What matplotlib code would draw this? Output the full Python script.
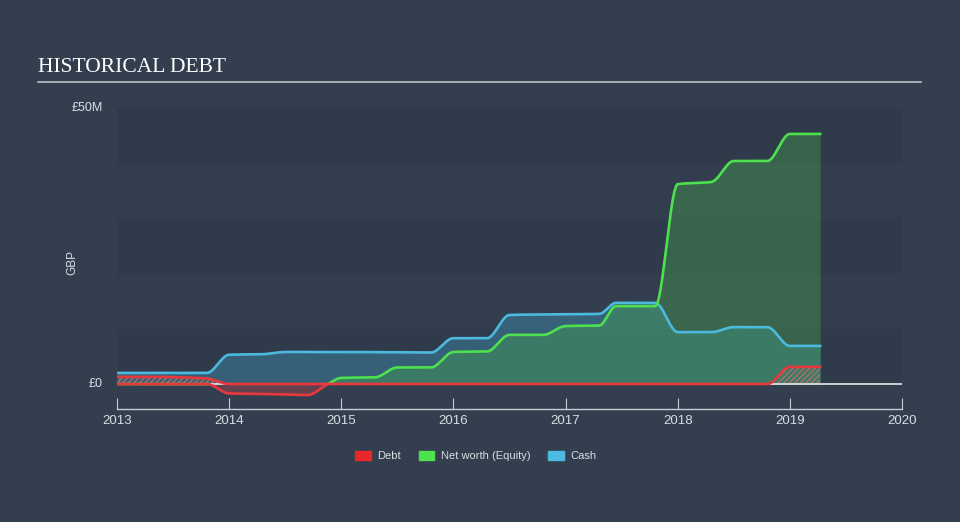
import numpy as np
import matplotlib
matplotlib.use("Agg")
import matplotlib.pyplot as plt
from matplotlib.patches import Patch

# ---- data (GBP millions) ----
cash_t = [2013.0, 2013.8, 2014.0, 2014.3, 2014.5, 2015.0, 2015.8, 2016.0, 2016.3, 2016.5, 2016.8, 2017.3, 2017.45, 2017.8, 2018.0, 2018.3, 2018.5, 2018.8, 2019.0, 2019.27]
cash_v = [2.0, 2.0, 5.3, 5.4, 5.8, 5.8, 5.7, 8.3, 8.3, 12.5, 12.6, 12.7, 14.7, 14.7, 9.4, 9.4, 10.3, 10.3, 6.9, 6.9]

eq_t = [2013.0, 2013.8, 2014.0, 2014.3, 2014.7, 2014.88, 2015.0, 2015.3, 2015.5, 2015.8, 2016.0, 2016.3, 2016.5, 2016.8, 2017.0, 2017.3, 2017.45, 2017.8, 2018.0, 2018.3, 2018.5, 2018.8, 2019.0, 2019.27]
eq_v = [0.0, 0.0, -1.7, -1.8, -2.0, 0.0, 1.1, 1.2, 3.0, 3.0, 5.8, 5.9, 8.9, 8.9, 10.5, 10.6, 14.1, 14.1, 36.2, 36.6, 40.4, 40.4, 45.3, 45.3]

debt_t = [2013.0, 2013.3, 2013.8, 2014.0, 2018.8, 2019.0, 2019.27]
debt_v = [1.3, 1.3, 1.0, 0.0, 0.0, 3.1, 3.1]

year_ticks = [2013, 2014, 2015, 2016, 2017, 2018, 2019, 2020]
y_labels = ["£0", "£50M"]
y_label_vals = [0, 50]


def monotone(xs, ys, n=1500):
    x = np.asarray(xs, float)
    y = np.asarray(ys, float)
    h = np.diff(x)
    d = np.diff(y) / h
    m = np.zeros_like(y)
    m[0], m[-1] = d[0], d[-1]
    for i in range(1, len(y) - 1):
        if d[i - 1] * d[i] <= 0:
            m[i] = 0
        else:
            w1 = 2 * h[i] + h[i - 1]
            w2 = h[i] + 2 * h[i - 1]
            m[i] = (w1 + w2) / (w1 / d[i - 1] + w2 / d[i])
    xx = np.linspace(x[0], x[-1], n)
    idx = np.clip(np.searchsorted(x, xx) - 1, 0, len(x) - 2)
    t = (xx - x[idx]) / h[idx]
    h00 = 2 * t**3 - 3 * t**2 + 1
    h10 = t**3 - 2 * t**2 + t
    h01 = -2 * t**3 + 3 * t**2
    h11 = t**3 - t**2
    yy = h00 * y[idx] + h10 * h[idx] * m[idx] + h01 * y[idx + 1] + h11 * h[idx] * m[idx + 1]
    return xx, yy


BG = "#333f4f"
DARK = "#2f3b4a"
CASH = "#4cb9df"
EQ = "#4de04f"
DEBT = "#e8383d"
TXT = "#d8dde3"

fig = plt.figure(figsize=(9.6, 5.22), dpi=100, facecolor=BG)
ax = fig.add_axes([117 / 960, 1 - 409 / 522, (902 - 117) / 960, (409 - 108) / 522])
ax.set_facecolor(BG)
ymin = -(409 - 384) / 5.52
ax.set_xlim(2013, 2020)
ax.set_ylim(ymin, 50)

for k, lo in enumerate(range(0, 50, 10)):
    if k % 2 == 0:
        ax.axhspan(lo, lo + 10, color=DARK, zorder=0, lw=0)
    else:
        ax.axhspan(lo, lo + 10, color="#323e4e", zorder=0, lw=0)

cx, cy = monotone(cash_t, cash_v)
ex, ey = monotone(eq_t, eq_v)
dx, dy = monotone(debt_t, debt_v)

ax.fill_between(cx, 0, cy, color="#3f8fb0", alpha=0.45, lw=0, zorder=1)
pos = np.where(ey > 0, ey, 0)
neg = np.where(ey < 0, ey, 0)
ax.fill_between(ex, 0, pos, color="#45a84c", alpha=0.38, lw=0, zorder=1)
ax.fill_between(ex, 0, neg, color="#c04548", alpha=0.35, lw=0, zorder=1)
ax.fill_between(dx, 0, dy, facecolor="none", edgecolor="#b0706a", hatch="//////", lw=0, zorder=2)

ax.axhline(0, color="#e8e8e8", lw=1.2, zorder=2)
ax.plot(cx, cy, color=CASH, lw=1.9, zorder=4)
ey_pos = np.ma.masked_where(ey < -0.02, ey)
ey_neg = np.ma.masked_where(ey > 0.02, ey)
ax.plot(ex, ey_pos, color=EQ, lw=1.9, zorder=4)
ax.plot(ex, ey_neg, color=DEBT, lw=1.9, zorder=4)
ax.plot(dx, dy, color=DEBT, lw=1.9, zorder=5)

for s in ["top", "right", "left"]:
    ax.spines[s].set_visible(False)
ax.spines["bottom"].set_color("#c8cdd3")
ax.spines["bottom"].set_linewidth(1)
ax.set_xticks(year_ticks)
ax.set_xticklabels([str(y) for y in year_ticks])
ax.tick_params(axis="x", direction="in", length=8, color="#c8cdd3", colors=TXT, labelsize=9.5, pad=4)
ax.set_yticks([])
for v, lab in zip(y_label_vals, y_labels):
    ax.text(-0.018, v, lab, transform=ax.get_yaxis_transform(), ha="right", va="center",
            color=TXT, fontsize=9, family="Liberation Sans")
ax.text(-0.057, 22, "GBP", transform=ax.get_yaxis_transform(), ha="center", va="center",
        rotation=90, color=TXT, fontsize=8.5, family="Liberation Sans")
for lab in ax.get_xticklabels():
    lab.set_family("Liberation Sans")

fig.text(38 / 960, 1 - 67 / 522, "HISTORICAL DEBT", color="white", fontsize=15.5,
         family="Liberation Serif", va="center", ha="left")
fig.add_artist(plt.Line2D([38 / 960, 921 / 960], [1 - 82 / 522, 1 - 82 / 522], color="#c0c4ca", lw=1.2))

handles = [Patch(color="#e8262b", label="Debt"), Patch(color="#4de04f", label="Net worth (Equity)"),
           Patch(color="#4cb9df", label="Cash")]
leg = fig.legend(handles=handles, loc="center", bbox_to_anchor=(476 / 960, 1 - 456 / 522), ncol=3,
                 frameon=False, fontsize=8, handlelength=1.4, handleheight=0.9, columnspacing=1.6,
                 handletextpad=0.6, prop={"family": "Liberation Sans", "size": 8})
for t in leg.get_texts():
    t.set_color(TXT)

fig.savefig("out.png", dpi=100, facecolor=BG)
